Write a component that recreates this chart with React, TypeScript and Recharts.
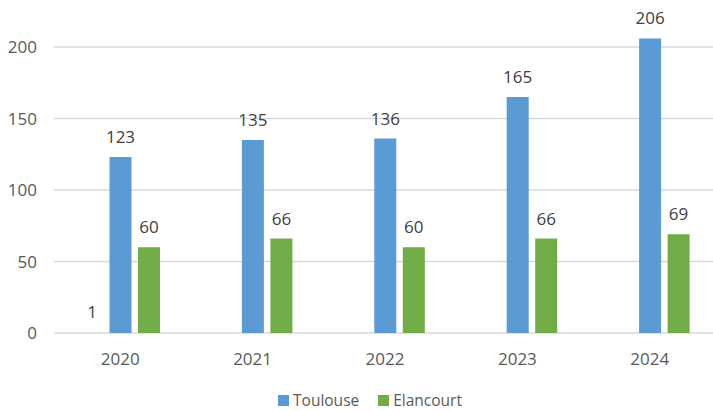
import React from "react";
import { BarChart, Bar, CartesianGrid, XAxis, YAxis, Legend, LabelList } from "recharts";

const years = ["2020", "2021", "2022", "2023", "2024"];
const toulouse = [123, 135, 136, 165, 206];
const elancourt = [60, 66, 60, 66, 69];
const autre: (number | null)[] = [1, null, null, null, null];
const yTicks = [0, 50, 100, 150, 200];

const data = years.map((year, i) => ({
  year,
  autre: autre[i],
  Toulouse: toulouse[i],
  Elancourt: elancourt[i],
}));

const font = "'Open Sans', 'DejaVu Sans', sans-serif";

function LegendBox() {
  const items = [
    { name: "Toulouse", color: "#5B9BD5" },
    { name: "Elancourt", color: "#70AD47" },
  ];
  return (
    <div
      style={{
        display: "flex",
        justifyContent: "center",
        alignItems: "center",
        height: 20,
        lineHeight: "20px",
        fontFamily: font,
        fontSize: 15.5,
        color: "#595959",
        gap: 19,
      }}
    >
      {items.map(item => (
        <div key={item.name} style={{ display: "flex", alignItems: "center" }}>
          <span style={{ width: 11, height: 11, background: item.color, marginRight: 4 }} />
          <span>{item.name}</span>
        </div>
      ))}
    </div>
  );
}

export default function App() {
  const labelStyle = { fontFamily: font, fontSize: 17, fill: "#404040" };
  return (
    <div style={{ position: "fixed", top: 0, left: 0, width: 713, height: 411, overflow: "hidden", background: "#fff" }}>
      <div style={{ position: "absolute", top: -40, left: 0 }}>
        <BarChart
          width={740}
          height={460}
          data={data}
          margin={{ top: 15.5, right: 24, bottom: 10, left: 0 }}
          barSize={22}
          barGap={6.5}
        >
          <CartesianGrid vertical={false} stroke="#D9D9D9" strokeWidth={1.3} />
          <XAxis
            dataKey="year"
            axisLine={false}
            tickLine={false}
            tickSize={0}
            tickMargin={20}
            height={57}
            tick={{ fontFamily: font, fontSize: 17, fill: "#595959" }}
          />
          <YAxis
            domain={[0, 250]}
            ticks={yTicks}
            axisLine={false}
            tickLine={false}
            tickSize={0}
            tickMargin={17}
            width={54}
            tick={{ fontFamily: font, fontSize: 17, fill: "#595959" }}
          />
          <Legend verticalAlign="bottom" content={() => <LegendBox />} wrapperStyle={{ left: 0, width: 740 }} />
          <Bar dataKey="autre" fill="transparent" legendType="none" isAnimationActive={false}>
            <LabelList dataKey="autre" position="top" offset={14} style={labelStyle} />
          </Bar>
          <Bar dataKey="Toulouse" fill="#5B9BD5" isAnimationActive={false}>
            <LabelList dataKey="Toulouse" position="top" offset={14} style={labelStyle} />
          </Bar>
          <Bar dataKey="Elancourt" fill="#70AD47" isAnimationActive={false}>
            <LabelList dataKey="Elancourt" position="top" offset={14} style={labelStyle} />
          </Bar>
        </BarChart>
      </div>
    </div>
  );
}
